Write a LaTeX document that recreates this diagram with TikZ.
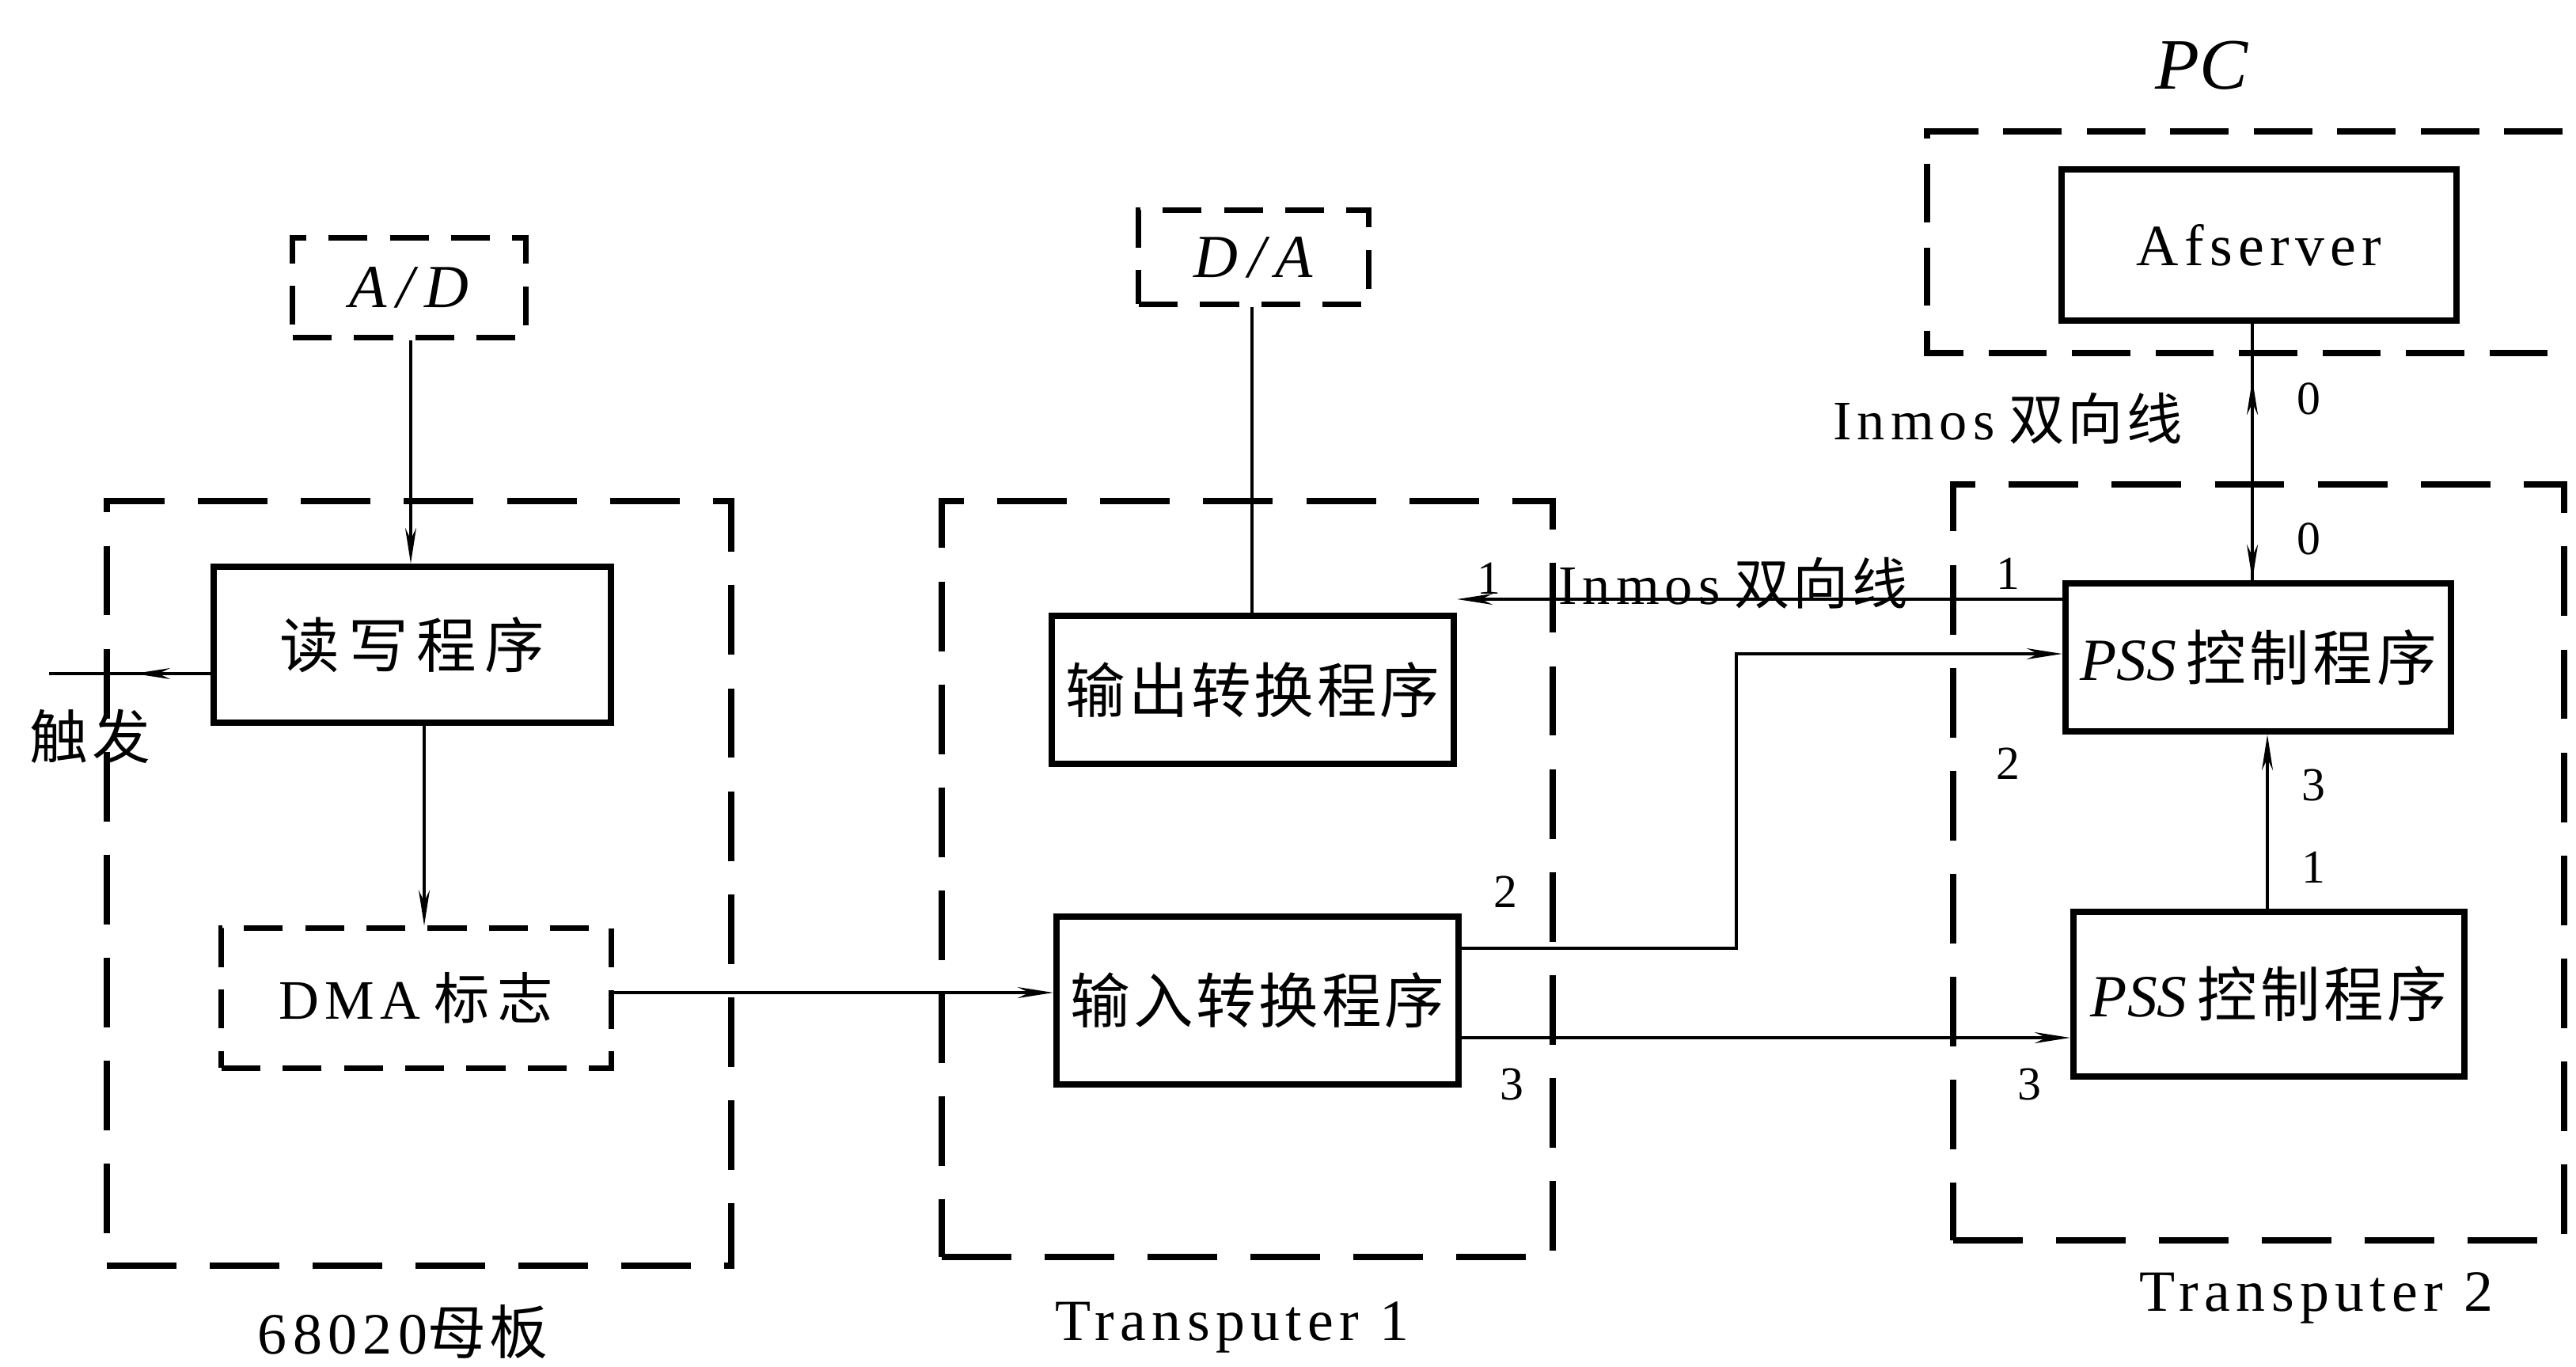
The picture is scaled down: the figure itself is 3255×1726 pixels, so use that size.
\documentclass[tikz,border=0pt]{standalone}
\usepackage{fontspec}
\setmainfont{Liberation Serif}
\newfontfamily\cjk[LetterSpace=14]{Noto Sans CJK SC}
\newfontfamily\cjks[LetterSpace=5]{Noto Sans CJK SC}
\newfontfamily\cjkn[LetterSpace=6]{Noto Sans CJK SC}
\newfontfamily\sersp[LetterSpace=10]{Liberation Serif}
\usetikzlibrary{arrows.meta}
\begin{document}
\begin{tikzpicture}[x=0.01cm,y=-0.01cm,
  solidbox/.style={draw, line width=2.3pt, inner sep=0pt},
  bigdash/.style={draw, line width=2.3pt, inner sep=0pt, dash pattern=on 25pt off 12pt},
  smalldash/.style={draw, line width=2.0pt, inner sep=0pt, dash pattern=on 14pt off 8pt},
  conn/.style={line width=0.9pt},
  arrtip/.style={-{Stealth[length=0.45cm,width=0.14cm]}},
  rarrtip/.style={{Stealth[length=0.45cm,width=0.14cm]}-},
  lbl/.style={inner sep=0pt},
  bigtxt/.style={font=\fontsize{21.5pt}{24pt}\selectfont},
  numtxt/.style={lbl, font=\fontsize{17pt}{20pt}\selectfont},
  captxt/.style={lbl, font=\fontsize{21pt}{24pt}\selectfont\sersp}]
\useasboundingbox (0,0) rectangle (3255,1726);

% ---- 68020 board ----
\node[bigdash, minimum width=7.89cm, minimum height=9.66cm] (board) at (529.5,1116) {};
\node[smalldash, minimum width=2.94cm, minimum height=1.25cm, font=\fontsize{22pt}{26pt}\selectfont\itshape] (AD) at (517,363.5) {A\,/\,D};
\node[solidbox, minimum width=5.02cm, minimum height=1.97cm, bigtxt] (RW) at (521,814.5) {\cjk 读写程序};
\node[smalldash, minimum width=4.92cm, minimum height=1.76cm, font=\fontsize{20pt}{24pt}\selectfont] (DMA) at (526,1261) {{\sersp DMA} {\cjk 标志}};
\node[lbl, font=\fontsize{21pt}{24pt}\selectfont] (trigl) at (114,930) {\cjkn 触发};
\node[captxt] (boardl) at (509,1682) {68020{\cjkn 母板}};
\coordinate (trig) at (62,851);

% ---- Transputer 1 ----
\node[bigdash, minimum width=7.72cm, minimum height=9.55cm] (T1) at (1576,1110.5) {};
\node[smalldash, minimum width=2.90cm, minimum height=1.18cm, font=\fontsize{22pt}{26pt}\selectfont\itshape] (DA) at (1584,325) {D\,/\,A};
\node[solidbox, minimum width=5.08cm, minimum height=1.87cm, bigtxt] (OUT) at (1583,871.5) {\cjks 输出转换程序};
\node[solidbox, minimum width=5.08cm, minimum height=2.12cm, bigtxt] (IN) at (1589,1264) {\cjks 输入转换程序};
\node[captxt] (T1l) at (1557,1677) {Transputer 1};

% ---- PC ----
\draw[line width=2.3pt, dash pattern=on 21pt off 9pt] (3238,166) -- (2435,166) -- (2435,446) -- (3238,446);
\node[lbl, font=\fontsize{26pt}{30pt}\selectfont\itshape] (PCl) at (2782,83) {PC};
\node[solidbox, minimum width=4.99cm, minimum height=1.91cm, font=\fontsize{21pt}{24pt}\selectfont\sersp] (AF) at (2854.5,309.5) {Afserver};

% ---- Transputer 2 ----
\node[bigdash, minimum width=7.72cm, minimum height=9.55cm] (T2) at (2854,1089.5) {};
\node[solidbox, minimum width=4.87cm, minimum height=1.87cm, bigtxt] (PSS1) at (2853.5,830.5) {\textit{PSS}\,{\cjkn 控制程序}};
\node[solidbox, minimum width=4.94cm, minimum height=2.08cm, bigtxt] (PSS2) at (2867,1256) {\textit{PSS}\,{\cjkn 控制程序}};
\node[captxt] (T2l) at (2927,1640) {Transputer 2};

% ---- labels ----
\node[lbl, font=\fontsize{20pt}{24pt}\selectfont] (inm1) at (2537,529) {{\sersp Inmos} {\cjkn 双向线}};
\node[lbl, font=\fontsize{20pt}{24pt}\selectfont] (inm2) at (2190,737) {{\sersp Inmos} {\cjkn 双向线}};
\node[numtxt] (n0a) at (2917,504) {0};
\node[numtxt] (n0b) at (2917,681) {0};
\node[numtxt] (n1a) at (1881,731) {1};
\node[numtxt] (n1b) at (2537,725) {1};
\node[numtxt] (n2a) at (1902,1127) {2};
\node[numtxt] (n2b) at (2537,965) {2};
\node[numtxt] (n3a) at (1910,1370) {3};
\node[numtxt] (n3b) at (2564,1370) {3};
\node[numtxt] (n3c) at (2923,992) {3};
\node[numtxt] (n1c) at (2923,1096) {1};

% ---- connectors ----
\draw[conn, arrtip] (AD.south -| 519,0) -- (RW.north -| 519,0);
\draw[conn, arrtip] (RW.south -| 536,0) -- (DMA.north -| 536,0);
\draw[conn] (RW.west |- 0,851) -- (trig);
\draw[conn, arrtip] (RW.west |- 0,851) -- (170,851);
\draw[conn, arrtip] (DMA.east |- 0,1254) -- (IN.west |- 0,1254);
\draw[conn] (DA.south -| 1582,0) -- (OUT.north -| 1582,0);
\draw[conn, rarrtip] (OUT.east |- 0,757) -- (PSS1.west |- 0,757);
\draw[conn, arrtip] (IN.east |- 0,1198) -- (2194,1198) -- (2194,826) -- (PSS1.west |- 0,826);
\draw[conn, arrtip] (IN.east |- 0,1311) -- (PSS2.west |- 0,1311);
\draw[conn, rarrtip] (PSS1.south -| 2865,0) -- (PSS2.north -| 2865,0);
\draw[conn] (PSS1.north -| 2846,0) -- (AF.south -| 2846,0);
\draw[conn, arrtip, line width=1.2pt] (AF.south -| 2846,0) ++(0,120) -- ++(0,-50);
\draw[conn, arrtip, line width=1.2pt] (PSS1.north -| 2846,0) ++(0,-130) -- (PSS1.north -| 2846,0);
\end{tikzpicture}
\end{document}
